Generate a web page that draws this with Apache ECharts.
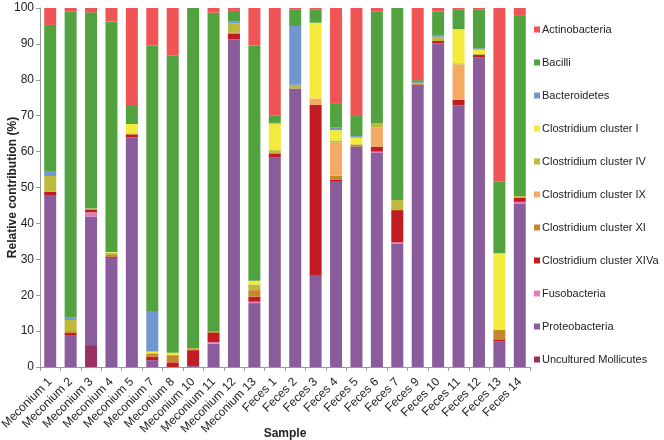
<!DOCTYPE html>
<html><head><meta charset="utf-8">
<script src="https://cdn.jsdelivr.net/npm/echarts@6/dist/echarts.min.js"></script>
<style>html,body{margin:0;padding:0;background:#fff}#c{width:664px;height:440px}</style>
</head><body><div id="c"></div>
<script>
var categories = ["Meconium 1","Meconium 2","Meconium 3","Meconium 4","Meconium 5","Meconium 7","Meconium 8","Meconium 10","Meconium 11","Meconium 12","Meconium 13","Feces 1","Feces 2","Feces 3","Feces 4","Feces 5","Feces 6","Feces 7","Feces 9","Feces 10","Feces 11","Feces 12","Feces 13","Feces 14"];
var uncultured = [0,0,6.1,0,0,0,0,0,0,0,0, 0,0,0,0,0,0,0,0,0,0,0,0,0];
var proteo = [47.9,8.9,35.8,30.4,64.0,1.9,0,0.3,6.5,91.3,17.8, 58.4,77.6,25.4,51.6,61.4,59.6,34.3,78.6,90.2,72.8,86.2,7.2,45.4];
var fuso = [0,0,1.2,0,0,0,0,0,0.4,0,0.4, 0,0,0,0,0,0.4,0.4,0,0,0,0,0,0.6];
var xiva = [0.9,0.6,0.8,0.4,0.8,1.0,1.3,4.4,2.6,1.5,1.4, 1.1,0,47.6,0.5,0,1.4,9.0,0,0.6,1.6,0.7,0.5,1.2];
var xi = [0,0.5,0,0.4,0,0.9,2.0,0,0.3,0.4,1.8, 0,0,0,1.2,0.6,0,0,0.4,0,0,0,2.6,0];
var ix = [0,0,0,0,0,0,0,0,0,0,0, 0,0,1.8,9.2,0,5.3,0,0,0,9.9,0,0,0];
var iv = [4.4,3.1,0.3,0.6,0.3,0,0,0.6,0,2.5,1.6, 0.9,1.0,0,0.5,0,1.2,2.8,0,1.2,0.3,0.3,0,0.4];
var ci = [0,0,0,0.2,2.6,0.5,0.7,0,0,0,1.0, 7.4,0,21.1,3.0,1.9,0,0,0,0,9.5,1.2,21.4,0];
var bact = [1.2,0.7,0,0,0,11.3,0,0,0,0.5,0, 0.2,16.4,0,0.7,0.4,0,0,0.3,0.5,0,0.4,0,0];
var bacilli = [40.9,85.2,54.6,64.2,5.0,73.9,82.7,94.7,88.9,3.0,65.5, 2.0,4.5,3.6,6.8,5.6,31.1,53.5,0.6,6.5,5.4,10.7,19.9,50.2];
var actino = [4.7,1.0,1.2,3.8,27.3,10.5,13.3,0,1.3,0.8,10.5, 30.0,0.5,0.5,26.5,30.1,1.0,0,20.1,1.0,0.5,0.5,48.4,2.2];
var yTicks = [0,10,20,30,40,50,60,70,80,90,100];

var seriesDefs = [
  ["Uncultured Mollicutes", uncultured, "#9A2F62"],
  ["Proteobacteria", proteo, "#8A5C9C"],
  ["Fusobacteria", fuso, "#E27DBA"],
  ["Clostridium cluster XIVa", xiva, "#C11C22"],
  ["Clostridium cluster XI", xi, "#C8862A"],
  ["Clostridium cluster IX", ix, "#F4AA62"],
  ["Clostridium cluster IV", iv, "#BDB93A"],
  ["Clostridium cluster I", ci, "#F2EA3C"],
  ["Bacteroidetes", bact, "#7097D1"],
  ["Bacilli", bacilli, "#52A23F"],
  ["Actinobacteria", actino, "#F05454"]
];
var font = "'Liberation Sans', Arial, sans-serif";
var series = seriesDefs.map(function(d){
  return {name:d[0], type:'bar', stack:'all', data:d[1], barWidth:12,
    itemStyle:{color:d[2]}, emphasis:{disabled:true}};
});
var legendOrder = seriesDefs.map(function(d){return d[0];}).reverse();
var chart = echarts.init(document.getElementById('c'), null, {renderer:'canvas'});
chart.setOption({
  animation:false,
  textStyle:{fontFamily:font},
  grid:{left:40, right:134, top:8, bottom:73, containLabel:false, outerBoundsMode:'none'},
  legend:{orient:'vertical', left:529, top:19, itemWidth:6, itemHeight:6, itemGap:22,
    icon:'rect', data:legendOrder,
    textStyle:{fontFamily:font, fontSize:11, color:'#222', padding:[0,0,0,-3]}},
  xAxis:{type:'category', data:categories, name:'Sample', nameLocation:'middle', nameGap:61,
    nameMoveOverlap:false,
    nameTextStyle:{fontFamily:font, fontSize:12, fontWeight:'bold', color:'#222'},
    axisLine:{lineStyle:{color:'#999'}},
    axisTick:{show:true, alignWithLabel:false, interval:0, length:4, lineStyle:{color:'#999'}},
    axisLabel:{interval:0, rotate:45, fontSize:12, color:'#222', fontFamily:font, margin:13}},
  yAxis:{type:'value', min:0, max:100, interval:10, name:'Relative contribution (%)',
    nameLocation:'middle', nameGap:21, nameMoveOverlap:false,
    nameTextStyle:{fontFamily:font, fontSize:12, fontWeight:'bold', color:'#222'},
    axisLine:{show:true, lineStyle:{color:'#999'}},
    axisTick:{show:true, length:4, lineStyle:{color:'#999'}},
    splitLine:{show:false},
    axisLabel:{fontSize:12, color:'#222', fontFamily:font, margin:6,
      formatter:function(v){return yTicks.indexOf(v)>=0 ? String(v) : '';}}},
  series:series
});
</script></body></html>
